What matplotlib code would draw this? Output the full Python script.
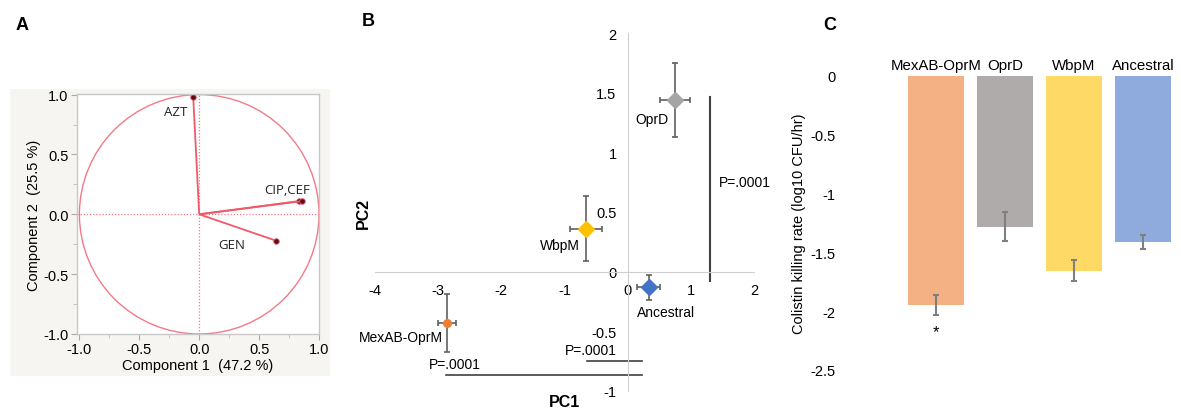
import numpy as np
import matplotlib.pyplot as plt
from matplotlib.patches import Circle, Rectangle
from matplotlib.ticker import MultipleLocator, FormatStrFormatter, FuncFormatter

plt.rcParams['font.family'] = ['Liberation Sans', 'DejaVu Sans']
plt.rcParams['axes.unicode_minus'] = False

# ---------------- data ----------------
# panel A: loading vectors (component 1, component 2)
load_names = ["AZT", "CIP", "CEF", "GEN"]
load_pc1 = [-0.05, 0.83, 0.86, 0.64]
load_pc2 = [0.98, 0.11, 0.11, -0.22]
load_labels = ["AZT", "CIP,CEF", "GEN"]
load_label_x = [-0.20, 0.73, 0.27]
load_label_y = [0.86, 0.21, -0.25]

# panel B: PCA scores with error bars
strains = ["OprD", "WbpM", "Ancestral", "MexAB-OprM"]
pc1_mean = [0.75, -0.66, 0.33, -2.86]
pc1_err = [0.24, 0.25, 0.18, 0.14]
pc2_mean = [1.44, 0.36, -0.13, -0.43]
pc2_err = [0.31, 0.27, 0.105, 0.24]
strain_marker = ["D", "D", "D", "o"]
strain_color = ["#A5A5A5", "#FFC000", "#4472C4", "#ED7D31"]

# panel C: colistin killing rate
bar_names = ["MexAB-OprM", "OprD", "WbpM", "Ancestral"]
kill_rate = [-1.945, -1.28, -1.655, -1.41]
kill_err = [0.085, 0.12, 0.088, 0.06]
bar_colors = ["#F4B183", "#AFABAB", "#FFD966", "#8FAADC"]

W, H = 1181, 410


def box(l, t, r, b):
    return [l / W, 1 - b / H, (r - l) / W, (b - t) / H]


fig = plt.figure(figsize=(W / 100, H / 100), dpi=100)

# ================= A =================
bg = Rectangle((10 / W, 1 - 377 / H), 320 / W, 287 / H,
               transform=fig.transFigure, facecolor="#F6F5F1",
               edgecolor="none", zorder=-10)
fig.add_artist(bg)
axA = fig.add_axes(box(77, 95, 319, 335))
axA.set_zorder(1)
axA.set_xlim(-1.02, 1.0)
axA.set_ylim(-1.0, 1.005)
axA.set_facecolor("white")
for s in axA.spines.values():
    s.set_color("#C8C8C8")
    s.set_linewidth(1)
axA.xaxis.set_major_locator(MultipleLocator(0.5))
axA.yaxis.set_major_locator(MultipleLocator(0.5))
axA.xaxis.set_minor_locator(MultipleLocator(0.25))
axA.yaxis.set_minor_locator(MultipleLocator(0.25))
axA.xaxis.set_major_formatter(FormatStrFormatter("%.1f"))
axA.yaxis.set_major_formatter(FormatStrFormatter("%.1f"))
axA.tick_params(which="major", length=4, color="#AAAAAA", labelsize=10.5, pad=2)
axA.tick_params(which="minor", length=3, color="#BBBBBB")
axA.set_xlabel("Component 1  (47.2 %)", fontsize=10.5, labelpad=1)
axA.set_ylabel("Component 2  (25.5 %)", fontsize=10.5, labelpad=2)

red = "#EE5A6A"
axA.add_patch(Circle((0, 0), 1, fill=False, edgecolor="#F27A88", lw=1))
axA.axhline(0, color="#F27A88", ls=(0, (1, 1.5)), lw=0.9)
axA.axvline(0, color="#F27A88", ls=(0, (1, 1.5)), lw=0.9)
for x, y in zip(load_pc1, load_pc2):
    axA.plot([0, x], [0, y], color=red, lw=1.3, solid_capstyle="butt")
    axA.plot(x, y, "o", ms=4, color="#5A1018", mec=red, mew=0.6)
for lab, x, y in zip(load_labels, load_label_x, load_label_y):
    axA.text(x, y, lab, fontsize=9.5, ha="center", va="center",
             family=["Open Sans", "DejaVu Sans"], color="#222222")

# ================= B =================
axB = fig.add_axes(box(375, 34, 754, 392))
axB.set_xlim(-4, 2)
axB.set_ylim(-1, 2)
for side in ["top", "right"]:
    axB.spines[side].set_visible(False)
axB.spines["left"].set_position(("data", 0))
axB.spines["bottom"].set_position(("data", 0))
axB.spines["left"].set_color("#D0D0D0")
axB.spines["bottom"].set_color("#D0D0D0")
axB.xaxis.set_major_locator(MultipleLocator(1))
axB.yaxis.set_major_locator(MultipleLocator(0.5))
fmt = FuncFormatter(lambda v, p: "%g" % v)
axB.xaxis.set_major_formatter(fmt)
axB.yaxis.set_major_formatter(fmt)
axB.tick_params(axis="x", length=0, pad=8, labelsize=10.5)
axB.tick_params(axis="y", length=0, pad=8, labelsize=10.5)
axB.patch.set_alpha(0)

for i in range(len(strains)):
    axB.errorbar(pc1_mean[i], pc2_mean[i], xerr=pc1_err[i], yerr=pc2_err[i],
                 fmt="none", ecolor="#606060", elinewidth=1.2, capsize=2.5,
                 capthick=1.2, zorder=3)
    axB.plot(pc1_mean[i], pc2_mean[i], strain_marker[i], color=strain_color[i],
             ms=8 if strain_marker[i] == "D" else 5.5, zorder=4)

lab_fs = 10
axB.text(0.65, 1.28, "OprD", ha="right", va="center", fontsize=lab_fs)
axB.text(-0.75, 0.22, "WbpM", ha="right", va="center", fontsize=lab_fs)
axB.text(0.14, -0.34, "Ancestral", ha="left", va="center", fontsize=lab_fs)
axB.text(-2.92, -0.55, "MexAB-OprM", ha="right", va="center", fontsize=lab_fs)

sig = "#404040"
axB.plot([1.31, 1.31], [-0.08, 1.465], color=sig, lw=1.5)
axB.text(1.45, 0.75, "P=.0001", ha="left", va="center", fontsize=lab_fs)
axB.plot([-0.64, 0.23], [-0.75, -0.75], color=sig, lw=1.2)
axB.text(-0.18, -0.66, "P=.0001", ha="right", va="center", fontsize=lab_fs)
axB.plot([-2.87, 0.23], [-0.865, -0.865], color=sig, lw=1.2)
axB.text(-2.74, -0.77, "P=.0001", ha="center", va="center", fontsize=lab_fs)

fig.text(565 / W, 1 - 403 / H, "PC1", ha="center", va="center",
         fontsize=11.5, fontweight="bold")
fig.text(363 / W, 1 - 213 / H, "PC2", ha="center", va="center",
         fontsize=11.5, fontweight="bold", rotation=90)

# ================= C =================
axC = fig.add_axes(box(845, 77, 1177.5, 371))
xpos = np.arange(len(bar_names))
axC.bar(xpos, kill_rate, width=0.8, color=bar_colors)
axC.errorbar(xpos, kill_rate, yerr=kill_err, fmt="none", ecolor="#7F7F7F",
             elinewidth=1.5, capsize=2.5, capthick=1.5)
axC.set_xlim(-1.32, 3.5)
axC.set_ylim(-2.5, 0)
for s in axC.spines.values():
    s.set_visible(False)
axC.xaxis.tick_top()
axC.set_xticks(xpos)
axC.set_xticklabels(bar_names)
axC.tick_params(axis="x", length=0, pad=3, labelsize=10.8)
axC.yaxis.set_major_locator(MultipleLocator(0.5))
axC.yaxis.set_major_formatter(fmt)
axC.tick_params(axis="y", length=0, pad=7, labelsize=10.5)
axC.set_ylabel("Colistin killing rate (log10 CFU/hr)", fontsize=10.5, labelpad=3)
axC.text(0, -2.17, "*", ha="center", va="center", fontsize=12)

# panel letters
fig.text(22 / W, 1 - 26 / H, "A", ha="center", va="center", fontsize=13, fontweight="bold")
fig.text(368 / W, 1 - 22 / H, "B", ha="center", va="center", fontsize=13, fontweight="bold")
fig.text(830 / W, 1 - 25 / H, "C", ha="center", va="center", fontsize=13, fontweight="bold")

fig.savefig("out.png", dpi=100)
